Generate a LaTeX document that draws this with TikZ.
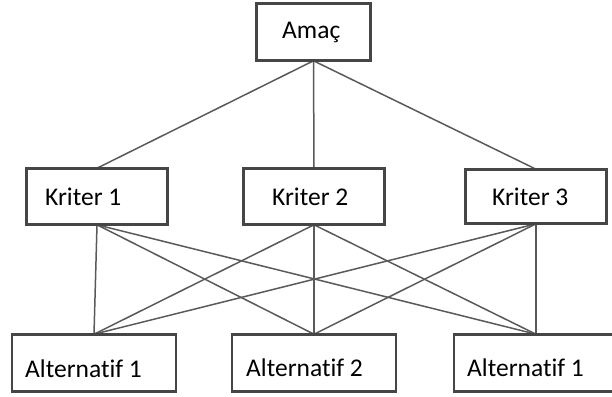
\documentclass[tikz,border=0pt]{standalone}
\usepackage{fontspec}
\setmainfont[Ligatures={NoCommon,NoRare,NoDiscretionary}]{Carlito}
\definecolor{boxline}{RGB}{70,70,70}
\definecolor{conline}{RGB}{90,90,90}
\tikzset{
  box/.style={draw=boxline, line width=1.6pt, fill=white, rectangle, inner sep=0pt},
  lbl/.style={anchor=base west, inner sep=0pt, font=\fontsize{25.5}{30}\selectfont, text=black},
  con/.style={draw=conline, line width=1.5pt}
}
\begin{document}
\begin{tikzpicture}[x=1pt,y=-1pt]
\useasboundingbox (0,0) rectangle (612,396);
\clip (0,0) rectangle (612,396);
\fill[white] (0,0) rectangle (612,396);
% boxes
\node[box, minimum width=113pt, minimum height=56pt] (g)  at (313.5,32) {};
\node[box, minimum width=140pt, minimum height=55pt] (k1) at (97,196.5) {};
\node[box, minimum width=140pt, minimum height=55pt] (k2) at (314,196.5) {};
\node[box, minimum width=140pt, minimum height=53pt] (k3) at (536,196.5) {};
\node[box, minimum width=163pt, minimum height=56pt] (a1) at (94,363) {};
\node[box, minimum width=163pt, minimum height=56pt] (a2) at (314,363) {};
\node[box, minimum width=163pt, minimum height=56pt] (a3) at (536,363) {};
% connectors
\foreach \k in {k1,k2,k3} {
  \draw[con] (g.south) -- (\k.north);
}
\foreach \k in {k1,k2,k3} {
  \foreach \a in {a1,a2,a3} {
    \draw[con] (\k.south) -- (\a.north);
  }
}
% redraw box borders over connector ends
\foreach \n in {g,k1,k2,k3,a1,a2,a3} {
  \draw[draw=boxline, line width=1.6pt] (\n.north west) rectangle (\n.south east);
}
% labels
\node[lbl] (tg)  at (282,38)  {Amaç};
\node[lbl] (tk1) at (45,205)  {Kriter 1};
\node[lbl] (tk2) at (272,205) {Kriter 2};
\node[lbl] (tk3) at (492,205) {Kriter 3};
\node[lbl] (ta1) at (25,377)  {Alternatif 1};
\node[lbl] (ta2) at (246,376) {Alternatif 2};
\node[lbl] (ta3) at (467,376) {Alternatif 1};
\end{tikzpicture}
\end{document}
